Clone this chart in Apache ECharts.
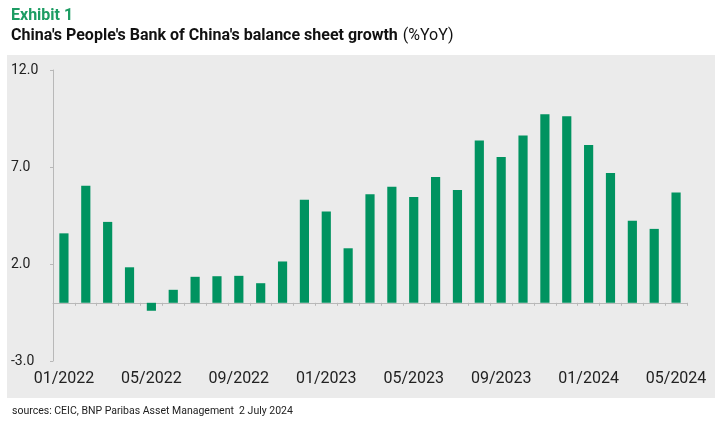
<!DOCTYPE html>
<html>
<head>
<meta charset="utf-8">
<script src="https://cdn.jsdelivr.net/npm/echarts@6/dist/echarts.min.js"></script>
<style>
html,body{margin:0;padding:0;background:#fff;}
#chart{width:725px;height:423px;}
</style>
</head>
<body>
<div id="chart"></div>
<script>
const categories = ['01/2022','02/2022','03/2022','04/2022','05/2022','06/2022','07/2022','08/2022','09/2022','10/2022','11/2022','12/2022',
  '01/2023','02/2023','03/2023','04/2023','05/2023','06/2023','07/2023','08/2023','09/2023','10/2023','11/2023','12/2023',
  '01/2024','02/2024','03/2024','04/2024','05/2024'];
const growthYoY = [3.58, 6.03, 4.17, 1.83, -0.41, 0.67, 1.34, 1.37, 1.39, 1.01, 2.13, 5.31,
  4.70, 2.81, 5.59, 5.98, 5.45, 6.48, 5.81, 8.37, 7.51, 8.62, 9.72, 9.62,
  8.13, 6.69, 4.23, 3.81, 5.69];
const yTicks = [-3, 2, 7, 12];

const chart = echarts.init(document.getElementById('chart'), null, {renderer: 'canvas'});
chart.setOption({
  animation: false,
  backgroundColor: '#ffffff',
  graphic: [{
    type: 'rect', z: -10, silent: true,
    shape: {x: 7, y: 55, width: 708, height: 343},
    style: {fill: '#ebebeb'}
  }],
  title: [
    {text: 'Exhibit 1', left: 6, top: 3,
     textStyle: {color: '#1c9c63', fontSize: 16, fontWeight: 'bold', fontFamily: 'Roboto'}},
    {text: "{b|China's People's Bank of China's balance sheet growth} {n|(%YoY)}", left: 6, top: 22,
     textStyle: {rich: {
       b: {fontSize: 16, fontWeight: 'bold', color: '#111', fontFamily: 'Roboto'},
       n: {fontSize: 16, fontWeight: 'normal', color: '#111', fontFamily: 'Roboto'}
     }}},
    {text: 'sources: CEIC, BNP Paribas Asset Management  2 July 2024', left: 7, top: 401,
     textStyle: {fontSize: 10.5, fontWeight: 'normal', color: '#222', fontFamily: 'Roboto'}}
  ],
  grid: {left: 53, right: 38, top: 70, bottom: 62, containLabel: false},
  xAxis: [
    {type: 'category', data: categories, position: 'bottom',
     axisLine: {show: false, onZero: false}, axisTick: {show: false},
     axisLabel: {interval: 3, margin: 10, fontSize: 16, color: '#222', fontFamily: 'Roboto'}},
    {type: 'category', data: categories, position: 'bottom',
     axisLine: {show: true, onZero: true, lineStyle: {color: '#b8b8b8', width: 1}},
     axisTick: {show: true, interval: 0, length: 3, lineStyle: {color: '#b8b8b8'}},
     axisLabel: {show: false}}
  ],
  yAxis: {
    type: 'value', min: -3, max: 12, interval: 5,
    splitLine: {show: false},
    axisLine: {show: true, lineStyle: {color: '#b8b8b8', width: 1}},
    axisTick: {show: true, length: 3, lineStyle: {color: '#b8b8b8'}},
    axisLabel: {align: 'left', margin: 42, fontSize: 14, color: '#222', fontFamily: 'Roboto',
      formatter: v => yTicks.includes(Math.round(v)) ? v.toFixed(1) : ''}
  },
  series: [{
    type: 'bar', xAxisIndex: 0, data: growthYoY, barWidth: '42%',
    itemStyle: {color: '#009360'}
  }]
});
</script>
</body>
</html>
